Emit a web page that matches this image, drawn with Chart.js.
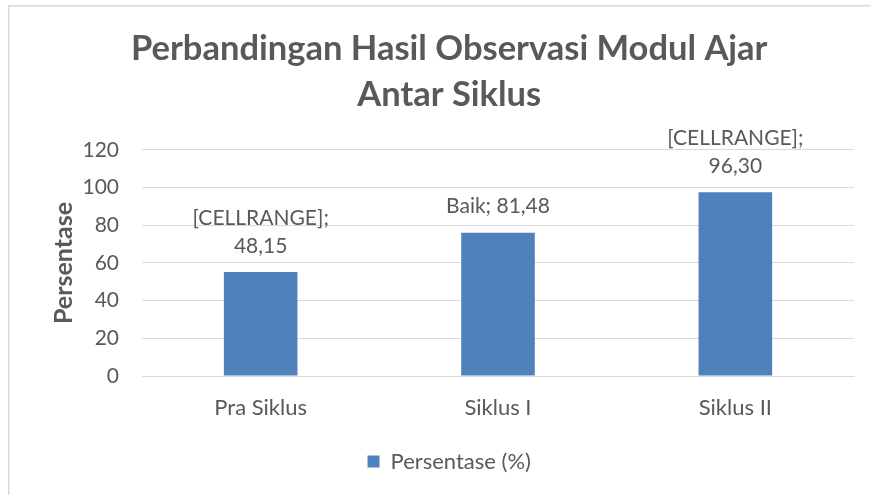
<!DOCTYPE html>
<html>
<head>
<meta charset="utf-8">
<script src="https://cdn.jsdelivr.net/npm/chart.js@4.4.1/dist/chart.umd.min.js"></script>
<style>
  html, body { margin: 0; padding: 0; background: #ffffff; }
  #wrap { position: relative; width: 871px; height: 495px; }
</style>
</head>
<body>
<div id="wrap"><canvas id="c" width="871" height="495"></canvas></div>
<script>
const categories = ["Pra Siklus", "Siklus I", "Siklus II"];
const barValues = [55.2, 76.1, 97.6];
const dataLabels = [["[CELLRANGE];", "48,15"], ["Baik; 81,48"], ["[CELLRANGE];", "96,30"]];
const seriesName = "Persentase (%)";
const yTicks = [0, 20, 40, 60, 80, 100, 120];
const titleLines = ["Perbandingan Hasil Observasi Modul Ajar", "Antar Siklus"];
const yAxisTitle = "Persentase";

const FONT = "Lato, 'Open Sans', sans-serif";
const TEXT = "#595959";
const BAR = "#4F81BD";
const GRID = "#d9d9d9";

const frame = {
  id: 'frame',
  beforeDraw(chart) {
    const ctx = chart.ctx;
    ctx.save();
    ctx.fillStyle = '#ffffff';
    ctx.fillRect(0, 0, chart.width, chart.height);
    ctx.fillStyle = GRID;
    ctx.fillRect(8, 5, chart.width - 8, 1.5);
    ctx.fillRect(8, 5, 1.5, chart.height - 5);
    ctx.restore();
  }
};

const barLabels = {
  id: 'barLabels',
  afterDatasetsDraw(chart) {
    const ctx = chart.ctx;
    const meta = chart.getDatasetMeta(0);
    ctx.save();
    ctx.font = "21px " + FONT;
    ctx.fillStyle = TEXT;
    ctx.textAlign = 'center';
    ctx.textBaseline = 'middle';
    meta.data.forEach((el, i) => {
      const lines = dataLabels[i];
      const n = lines.length;
      lines.forEach((t, j) => {
        ctx.fillText(t, el.x, el.y - 26 - (n - 1 - j) * 27.5);
      });
    });
    ctx.restore();
  }
};

new Chart(document.getElementById('c'), {
  type: 'bar',
  data: {
    labels: categories,
    datasets: [{
      label: seriesName,
      data: barValues,
      backgroundColor: BAR,
      borderWidth: 0,
      categoryPercentage: 1.0,
      barPercentage: 0.31
    }]
  },
  options: {
    responsive: false,
    animation: false,
    devicePixelRatio: 1,
    layout: { padding: { left: 44.5, right: 17, top: 0, bottom: 12.5 } },
    plugins: {
      title: {
        display: true,
        text: titleLines,
        color: TEXT,
        font: { family: FONT, size: 34.5, weight: 'bold', lineHeight: 1.333 },
        padding: { top: 26, bottom: 32 }
      },
      legend: {
        display: true,
        position: 'bottom',
        labels: {
          color: TEXT,
          font: { family: FONT, size: 22 },
          boxWidth: 12,
          boxHeight: 12,
          padding: 10
        }
      },
      tooltip: { enabled: false }
    },
    scales: {
      x: {
        afterFit(scale) { scale.height = 64.5; },
        grid: { display: false, drawTicks: false },
        border: { display: true, color: GRID, width: 1 },
        ticks: { color: TEXT, font: { family: FONT, size: 22 }, padding: 19 }
      },
      y: {
        min: 0,
        max: 120,
        afterBuildTicks(scale) { scale.ticks = yTicks.map(v => ({ value: v })); },
        afterFit(scale) { scale.width = 97.5; },
        grid: { color: GRID, lineWidth: 1, drawTicks: false },
        border: { display: false },
        ticks: { color: TEXT, font: { family: FONT, size: 21 }, padding: 23 },
        title: {
          display: true,
          text: yAxisTitle,
          color: TEXT,
          font: { family: FONT, size: 25, weight: 'bold' }
        }
      }
    }
  },
  plugins: [frame, barLabels]
});
</script>
</body>
</html>
